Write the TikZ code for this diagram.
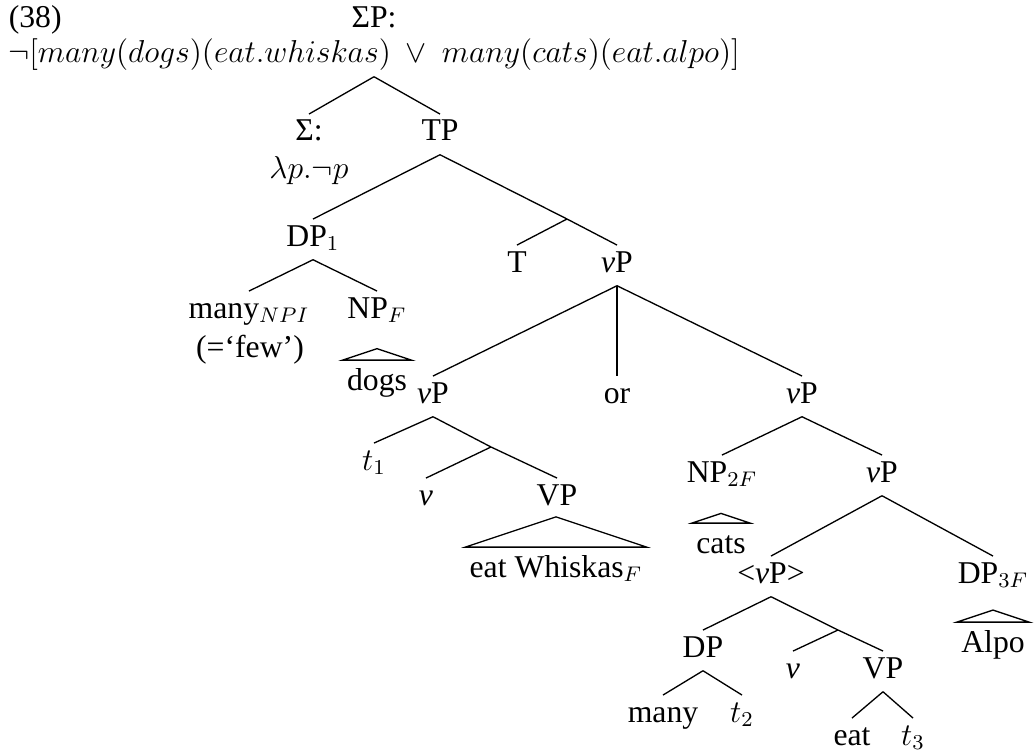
\documentclass[tikz,border=0pt]{standalone}
\usepackage[no-math]{fontspec}
\setmainfont{Liberation Serif}
\usetikzlibrary{calc}

\begin{document}
\begin{tikzpicture}[x=0.3785pt, y=-0.3785pt, line width=0.5pt,
        font=\fontsize{12}{14.4}\selectfont,
        lab/.style={inner sep=0pt, outer sep=2.2pt, text height=8pt,
                    text depth=3pt, anchor=base},
        leaf/.style={lab, inner xsep=1.7pt, outer sep=0pt, text height=11.3pt}
      ]
      \useasboundingbox (0,0) rectangle (1034,753);
      \node[lab, anchor=base west] (ex) at (3,28) {(38)};
      \node[lab] (sigp) at (374,28) {ΣP:};
      \node[lab] (root) at (374,63) {$\neg[many(dogs)(eat.whiskas)\ \vee\ many(cats)(eat.alpo)]$};
      \node[lab] (sig) at (309,141) {Σ:};
      \node[lab] (lam) at (309,179) {$\lambda p.\neg p$};
      \node[lab] (tp) at (440,141) {TP};
      \node[lab] (dp1) at (313,246) {DP$_1$};
      \coordinate (tbar) at (567,219);
      \node[lab] (t) at (517,272) {T};
      \node[lab] (vp) at (617,272) {\textit{v}P};
      \node[lab] (manynpi) at (249,318) {many$_{NPI}$};
      \node[lab] (few) at (250,357) {(=`few')};
      \node[lab] (npf) at (377,318) {NP$_F$};
      \node[leaf] (dogs) at (377,390) {dogs};
      \node[lab] (vpa) at (433,403) {\textit{v}P};
      \node[lab] (or) at (617,403) {or};
      \node[lab] (vpb) at (802,403) {\textit{v}P};
      \node[lab] (t1) at (374,470) {$t_1$};
      \coordinate (vbar1) at (491,447);
      \node[lab] (v1) at (426,505) {\textit{v}};
      \node[lab] (vp1) at (557,505) {VP};
      \node[leaf] (whisk) at (556,577) {eat Whiskas$_F$};
      \node[lab] (np2) at (722,482) {NP$_{2F}$};
      \node[lab] (vpc) at (882,482) {\textit{v}P};
      \node[leaf] (cats) at (721,553) {cats};
      \node[lab] (vpd) at (771,583) {<\textit{v}P>};
      \node[lab] (dp3) at (993,583) {DP$_{3F}$};
      \node[leaf] (alpo) at (993,652) {Alpo};
      \node[lab] (dp) at (703,657) {DP};
      \coordinate (vbar2) at (838,630);
      \node[lab] (v2) at (793,678) {\textit{v}};
      \node[lab] (vp2) at (883,678) {VP};
      \node[lab] (many) at (663,722) {many};
      \node[lab] (t2) at (742,722) {$t_2$};
      \node[lab] (eat) at (852,745) {eat};
      \node[lab] (t3) at (913,745) {$t_3$};
      % branches
      \draw (root.south) -- (sig.north);
      \draw (root.south) -- (tp.north);
      \draw (tp.south) -- (dp1.north);
      \draw (tp.south) -- (tbar) -- (vp.north);
      \draw (tbar) -- (t.north);
      \draw (dp1.south) -- (manynpi.north);
      \draw (dp1.south) -- (npf.north);
      \draw (vp.south) -- (vpa.north);
      \draw (vp.south) -- (or.north);
      \draw (vp.south) -- (vpb.north);
      \draw (vpa.south) -- (t1.north);
      \draw (vpa.south) -- (vbar1) -- (vp1.north);
      \draw (vbar1) -- (v1.north);
      \draw (vpb.south) -- (np2.north);
      \draw (vpb.south) -- (vpc.north);
      \draw (vpc.south) -- (vpd.north);
      \draw (vpc.south) -- (dp3.north);
      \draw (vpd.south) -- (dp.north);
      \draw (vpd.south) -- (vbar2) -- (vp2.north);
      \draw (vbar2) -- (v2.north);
      \draw (dp.south) -- (many.north);
      \draw (dp.south) -- (t2.north);
      \draw (vp2.south) -- (eat.north);
      \draw (vp2.south) -- (t3.north);
      % roofs over unanalysed phrases
      \draw let \p1=($(dogs.north east)-(dogs.north west)$) in
        (dogs.north west) -- ($(dogs.north)+(0,{\x1/6})$) -- (dogs.north east) -- cycle;
      \draw let \p1=($(whisk.north east)-(whisk.north west)$) in
        (whisk.north west) -- ($(whisk.north)+(0,{\x1/6})$) -- (whisk.north east) -- cycle;
      \draw let \p1=($(cats.north east)-(cats.north west)$) in
        (cats.north west) -- ($(cats.north)+(0,{\x1/6})$) -- (cats.north east) -- cycle;
      \draw let \p1=($(alpo.north east)-(alpo.north west)$) in
        (alpo.north west) -- ($(alpo.north)+(0,{\x1/6})$) -- (alpo.north east) -- cycle;
    \end{tikzpicture}
\end{document}
